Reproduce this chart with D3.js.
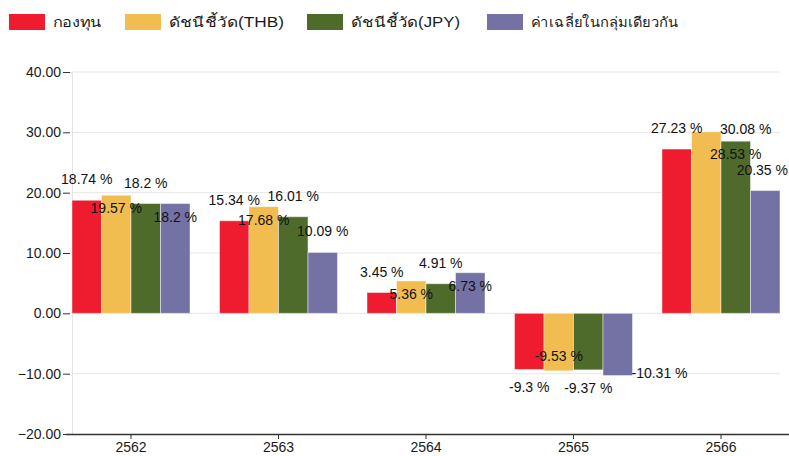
<!DOCTYPE html>
<html>
<head>
<meta charset="utf-8">
<script src="https://cdn.jsdelivr.net/npm/d3@7"></script>
<style>
  html, body { margin: 0; padding: 0; background: #fff; }
  svg { display: block; }
  text { font-family: "Liberation Sans", Arial, "Noto Sans", sans-serif; }
</style>
</head>
<body>
<svg id="chart" width="789" height="456"></svg>
<script>
// Yearly returns (%) per fund / benchmark
const years = ["2562", "2563", "2564", "2565", "2566"];
const seriesNames = ["กองทุน", "ดัชนีชี้วัด(THB)", "ดัชนีชี้วัด(JPY)", "ค่าเฉลี่ยในกลุ่มเดียวกัน"];
const fundReturn   = [18.74, 15.34, 3.45, -9.3, 27.23];
const benchTHB     = [19.57, 17.68, 5.36, -9.53, 30.08];
const benchJPY     = [18.2, 16.01, 4.91, -9.37, 28.53];
const peerAverage  = [18.2, 10.09, 6.73, -10.31, 20.35];
const yTicks = [-20, -10, 0, 10, 20, 30, 40];

const seriesValues = [fundReturn, benchTHB, benchJPY, peerAverage];
const colors = ["#ee1c2e", "#f2bd50", "#4f6b2b", "#7472a5"];

// Where each value label sits: "out" beyond the bar end, "in" inside the bar end,
// "side" to the right of the bar end. One row per year, one entry per series.
const labelSpot = [
  ["out", "in", "out", "in"],
  ["out", "in", "out", "out"],
  ["out", "in", "out", "in"],
  ["out", "in", "out", "side"],
  ["out", "side", "in", "out"]
];

// Legend layout: left edge of each swatch and width of each caption
const legendX = [9, 125, 307, 487];
const legendTextWidth = [49, 115, 109, 147];

const W = 789;
const svg = d3.select("#chart");

const x0 = d3.scaleBand().domain(years).range([72, 780]).paddingInner(0.2).paddingOuter(0);
const x1 = d3.scaleBand().domain(d3.range(seriesNames.length)).range([0, x0.bandwidth()]);
const y = d3.scaleLinear().domain([-20, 40]).range([434, 72]);

// Horizontal grid
svg.append("g")
  .selectAll("line")
  .data(yTicks.filter(t => t !== -20))
  .join("line")
  .attr("x1", 72).attr("x2", 780)
  .attr("y1", d => y(d)).attr("y2", d => y(d))
  .attr("stroke", "#e6e6e6").attr("stroke-width", 1);

// Y axis
const yAxis = svg.append("g")
  .attr("transform", "translate(72,0)")
  .call(d3.axisLeft(y).tickValues(yTicks).tickFormat(d3.format(".2f")).tickSize(8).tickPadding(3));
yAxis.select(".domain").attr("stroke", "#e3e3e3");
yAxis.selectAll(".tick line").attr("stroke", "#333").attr("x2", -2).attr("x1", -9);
yAxis.selectAll(".tick text").attr("font-size", 14).attr("fill", "#1a1a1a")
  .attr("font-family", "'Liberation Sans', Arial, sans-serif");

// Bars
const groups = svg.append("g")
  .selectAll("g")
  .data(years)
  .join("g")
  .attr("transform", d => `translate(${x0(d)},0)`);

groups.selectAll("rect")
  .data((yr, i) => seriesValues.map((vals, s) => ({ s, v: vals[i] })))
  .join("rect")
  .attr("x", d => x1(d.s))
  .attr("width", x1.bandwidth())
  .attr("y", d => y(Math.max(0, d.v)))
  .attr("height", d => Math.abs(y(d.v) - y(0)))
  .attr("fill", d => colors[d.s])
  .attr("stroke", "rgba(255,255,255,0.45)")
  .attr("stroke-width", 1);

// X axis
const xAxis = svg.append("g")
  .attr("transform", "translate(0,434)")
  .call(d3.axisBottom(x0).tickSize(5).tickPadding(3));
xAxis.select(".domain").remove();
xAxis.selectAll(".tick line").attr("stroke", "#333");
xAxis.selectAll(".tick text").attr("font-size", 14).attr("fill", "#1a1a1a")
  .attr("font-family", "'Liberation Sans', Arial, sans-serif");
svg.append("line")
  .attr("x1", 66).attr("x2", W).attr("y1", 434.5).attr("y2", 434.5)
  .attr("stroke", "#333").attr("stroke-width", 1.5);

// Value labels
const labels = svg.append("g");
years.forEach((yr, i) => {
  seriesValues.forEach((vals, s) => {
    const v = vals[i];
    const spot = labelSpot[i][s];
    const left = x0(yr) + x1(s);
    const mid = left + x1.bandwidth() / 2;
    const end = y(v);
    let tx = mid, ty, anchor = "middle";
    if (spot === "out") ty = v >= 0 ? end - 16 : end + 23;
    else if (spot === "in") ty = v >= 0 ? end + 18 : end - 10;
    else { tx = left + x1.bandwidth() - 1; anchor = "start"; ty = end + 2; }
    const t = labels.append("text")
      .attr("x", tx).attr("y", ty)
      .attr("text-anchor", anchor)
      .attr("font-size", 14)
      .attr("fill", "#111")
      .text(`${v} %`);
    // keep labels inside the canvas
    const bb = t.node().getBBox();
    if (bb.x + bb.width > W - 1) t.attr("x", tx - (bb.x + bb.width - (W - 1)));
  });
});

// Legend
const legend = svg.append("g");
seriesNames.forEach((name, s) => {
  const lx = legendX[s];
  legend.append("rect")
    .attr("x", lx).attr("y", 14).attr("width", 36).attr("height", 16)
    .attr("fill", colors[s]);
  legend.append("text")
    .attr("x", lx + 44).attr("y", 27)
    .attr("font-size", 14).attr("fill", "#1a1a1a")
    .attr("textLength", legendTextWidth[s])
    .attr("lengthAdjust", "spacingAndGlyphs")
    .text(name);
});
</script>
</body>
</html>
